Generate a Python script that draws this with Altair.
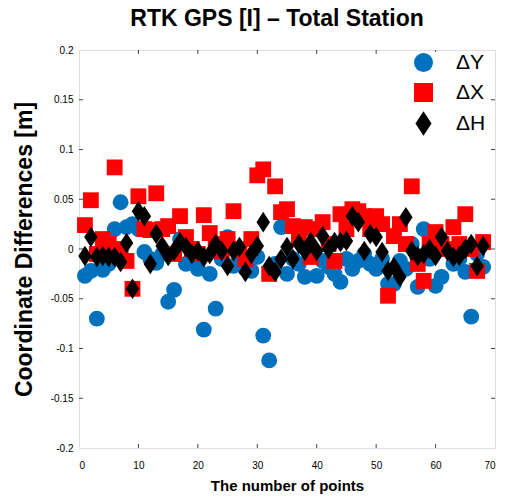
import altair as alt
import pandas as pd

points = list(range(1, 69))

dY = [-0.027, -0.022, -0.070, -0.021, -0.015, 0.020, 0.047, 0.022, 0.025, 0.020,
      -0.003, -0.010, -0.014, -0.005, -0.053, -0.041, 0.010, -0.015, -0.012, -0.020,
      -0.081, -0.025, -0.060, -0.010, 0.012, -0.017, -0.010, -0.020, -0.022, -0.008,
      -0.087, -0.112, -0.015, 0.022, -0.025, -0.010, -0.015, -0.028, 0.020, -0.027,
      -0.012, -0.018, -0.025, -0.033, -0.010, -0.020, -0.012, -0.005, -0.015, -0.020,
      -0.010, -0.035, -0.035, -0.012, -0.020, 0.005, -0.038, 0.020, -0.010, -0.037,
      -0.028, 0.000, -0.015, -0.010, -0.023, -0.068, -0.005, -0.018]

dX = [0.024, 0.049, -0.005, 0.010, 0.005, 0.082, 0.000, -0.012, -0.040, 0.053,
      0.020, 0.019, 0.056, 0.020, 0.023, -0.005, 0.033, 0.012, 0.000, -0.005,
      0.034, 0.016, 0.005, -0.002, 0.010, 0.038, 0.000, -0.010, 0.010, 0.074,
      0.080, -0.025, 0.063, 0.037, 0.040, 0.023, 0.010, 0.022, -0.008, 0.020,
      0.027, 0.005, -0.012, 0.035, 0.020, 0.040, 0.038, 0.033, 0.020, 0.033,
      0.025, -0.047, 0.013, 0.025, 0.005, 0.063, -0.015, -0.032, 0.005, 0.017,
      0.005, 0.000, 0.022, 0.005, 0.035, 0.000, -0.022, 0.007]

dH = [-0.007, 0.012, -0.008, -0.007, -0.008, -0.008, -0.013, 0.006, -0.040, 0.038,
      0.033, -0.015, 0.015, 0.003, -0.007, -0.002, 0.007, 0.002, -0.005, -0.002,
      -0.008, -0.005, 0.005, -0.002, -0.017, -0.002, 0.002, -0.023, -0.005, 0.003,
      0.027, -0.017, -0.023, -0.010, 0.002, -0.010, 0.005, -0.002, 0.007, -0.002,
      0.013, 0.000, 0.007, 0.007, 0.008, 0.033, 0.027, -0.002, 0.015, 0.012,
      -0.003, -0.022, -0.018, -0.028, 0.032, -0.002, -0.007, -0.005, 0.000, -0.007,
      0.012, -0.002, -0.008, -0.007, 0.000, 0.005, -0.017, 0.003]

series_names = ["ΔY", "ΔX", "ΔH"]
series_colors = ["#0072BD", "#FF0000", "#000000"]
diamond = "M0,-1.3L0.85,0L0,1.3L-0.85,0Z"
series_shapes = ["circle", "square", diamond]

x_ticks = [0, 10, 20, 30, 40, 50, 60, 70]
y_ticks = [-0.2, -0.15, -0.1, -0.05, 0, 0.05, 0.1, 0.15, 0.2]

rows = []
for name, vals in zip(series_names, [dY, dX, dH]):
    for p, v in zip(points, vals):
        rows.append({"point": p, "value": v, "series": name})
df = pd.DataFrame(rows)

W, H = 416, 398
xscale = alt.Scale(domain=[0, 70], nice=False, zero=False)
yscale = alt.Scale(domain=[-0.2, 0.2], nice=False, zero=False)

leg = alt.Legend(title=None, orient="none", legendX=334, legendY=2,
                 labelFontSize=21, symbolSize=360, rowPadding=8,
                 labelOffset=22, padding=0, fillColor="white",
                 labelFont="Liberation Sans", labelColor="#000")

pts = alt.Chart(df).mark_point(filled=True, size=250, opacity=1, strokeWidth=0).encode(
    x=alt.X("point:Q", scale=xscale,
            axis=alt.Axis(values=x_ticks, title="The number of points", grid=False,
                          ticks=False, domain=False, labelPadding=12,
                          titleFontSize=15, titleFontWeight="bold", titlePadding=8)),
    y=alt.Y("value:Q", scale=yscale,
            axis=alt.Axis(values=y_ticks, title="Coordinate Differences [m]", grid=False,
                          ticks=False, domain=False, labelPadding=6,
                          labelExpr="'' + datum.value",
                          titleFontSize=23, titleFontWeight="bold", titlePadding=14)),
    color=alt.Color("series:N",
                    scale=alt.Scale(domain=series_names, range=series_colors),
                    legend=leg),
    shape=alt.Shape("series:N",
                    scale=alt.Scale(domain=series_names, range=series_shapes),
                    legend=leg),
)

xt = pd.DataFrame({"t": x_ticks[1:-1]})
yt = pd.DataFrame({"t": y_ticks[1:-1]})
tick_col = "#444"
bx = alt.Chart(xt).mark_rule(color=tick_col, strokeWidth=1).encode(
    x=alt.X("t:Q", scale=xscale), y=alt.value(H), y2=alt.value(H - 4))
tx = alt.Chart(xt).mark_rule(color=tick_col, strokeWidth=1).encode(
    x=alt.X("t:Q", scale=xscale), y=alt.value(0), y2=alt.value(4))
ly = alt.Chart(yt).mark_rule(color=tick_col, strokeWidth=1).encode(
    y=alt.Y("t:Q", scale=yscale), x=alt.value(0), x2=alt.value(4))
ry = alt.Chart(yt).mark_rule(color=tick_col, strokeWidth=1).encode(
    y=alt.Y("t:Q", scale=yscale), x=alt.value(W), x2=alt.value(W - 4))

chart = alt.layer(bx, tx, ly, ry, pts).properties(
    width=W, height=H,
    title=alt.Title("RTK GPS [I] – Total Station", fontSize=23, fontWeight="bold",
                    font="Liberation Sans", anchor="middle", offset=14, dx=-10),
    autosize=alt.AutoSizeParams(type="none"),
    padding={"left": 79, "top": 50, "right": 17, "bottom": 50},
).configure_view(stroke="#444", strokeWidth=1).configure_axis(
    labelFont="Liberation Sans", labelFontSize=13, labelColor="#222",
    titleFont="Liberation Sans", titleColor="#000"
).configure(background="white")

chart.save("out.html", embed_options={"renderer": "svg", "actions": False})
